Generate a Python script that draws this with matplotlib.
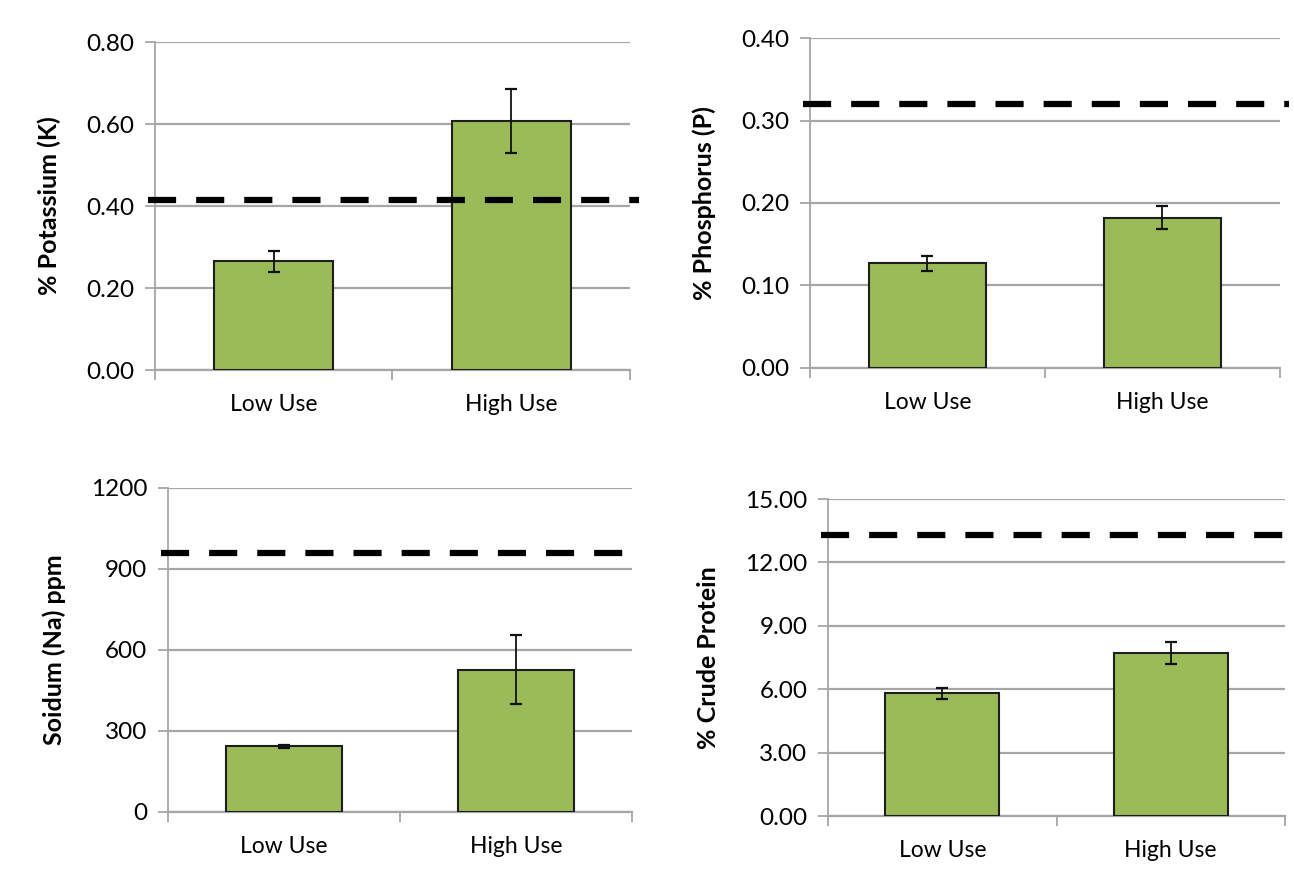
import matplotlib
matplotlib.use("Agg")
import matplotlib.pyplot as plt

plt.rcParams['font.family'] = ['Lato', 'DejaVu Sans']

groups = ["Low Use", "High Use"]

potassium = [0.265, 0.607]
potassium_err = [0.025, 0.078]
potassium_ref = 0.415

phosphorus = [0.127, 0.182]
phosphorus_err = [0.009, 0.014]
phosphorus_ref = 0.32

sodium = [243, 527]
sodium_err = [5, 127]
sodium_ref = 960

protein = [5.80, 7.70]
protein_err = [0.25, 0.52]
protein_ref = 13.3

panels = [
    # values, errors, reference, ylabel, ymax, step, fmt, axes rect
    (potassium, potassium_err, potassium_ref, "% Potassium (K)", 0.80, 0.20, "{:.2f}",
     [0.1198, 0.5833, 0.367, 0.3694]),
    (phosphorus, phosphorus_err, phosphorus_ref, "% Phosphorus (P)", 0.40, 0.10, "{:.2f}",
     [0.626, 0.5856, 0.363, 0.3716]),
    (sodium, sodium_err, sodium_ref, "Soidum (Na) ppm", 1200, 300, "{:.0f}",
     [0.1298, 0.0856, 0.3586, 0.3649]),
    (protein, protein_err, protein_ref, "% Crude Protein", 15.0, 3.0, "{:.2f}",
     [0.640, 0.081, 0.353, 0.357]),
]

fig = plt.figure(figsize=(12.94, 8.88), dpi=100)
grid_col = "#a6a6a6"

for vals, errs, ref, ylab, ymax, step, fmt, rect in panels:
    ax = fig.add_axes(rect)
    x = [0, 1]
    ax.bar(x, vals, width=0.5, color="#9bbb59", edgecolor="#1e1e1e",
           linewidth=1.5, zorder=3)
    ax.errorbar(x, vals, yerr=errs, fmt="none", ecolor="#111111",
                elinewidth=1.3, capsize=4, capthick=1.6, zorder=4)
    ax.axhline(ref, xmin=-0.015, xmax=1.02, color="black", linewidth=4.5,
               dashes=(4.5, 3.2), clip_on=False, zorder=5)

    ticks = [i * step for i in range(int(round(ymax / step)) + 1)]
    ax.set_ylim(0, ymax)
    ax.set_yticks(ticks)
    ax.set_yticklabels([fmt.format(t) for t in ticks], fontsize=17.5)
    ax.yaxis.grid(True, color=grid_col, linewidth=1.6, zorder=0)
    ax.set_axisbelow(True)

    ax.set_xlim(-0.5, 1.5)
    ax.set_xticks([-0.5, 0.5, 1.5])
    ax.set_xticklabels([])
    ax.set_xticks(x, minor=True)
    ax.set_xticklabels(groups, minor=True, fontsize=16.5)
    ax.tick_params(axis="x", which="minor", length=0, pad=17)
    ax.tick_params(axis="x", which="major", length=7, width=1.3,
                   color=grid_col, direction="out")
    ax.tick_params(axis="y", length=7, width=1.3, color=grid_col, pad=8)

    for s in ["top", "right"]:
        ax.spines[s].set_visible(False)
    ax.spines["left"].set_color(grid_col)
    ax.spines["left"].set_linewidth(1.3)
    ax.spines["bottom"].set_color(grid_col)
    ax.spines["bottom"].set_linewidth(1.6)

    ax.set_ylabel(ylab, fontsize=18, fontweight="bold", labelpad=18)

fig.savefig("out.png", dpi=100)
